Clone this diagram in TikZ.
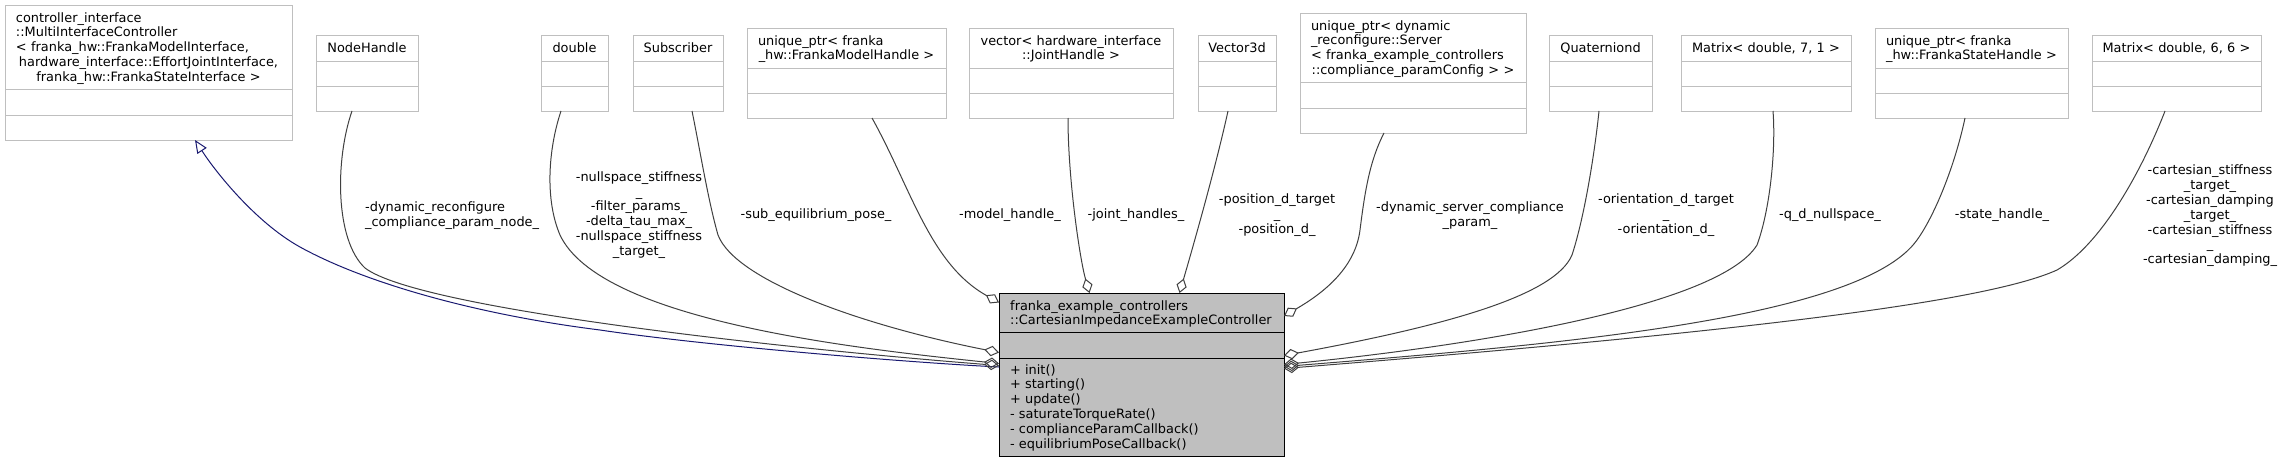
\documentclass[tikz,border=0pt]{standalone}
\usepackage{fontspec}
\setmainfont{DejaVu Sans}
\usetikzlibrary{arrows.meta}
\definecolor{boxgray}{HTML}{BFBFBF}
\definecolor{edgegray}{HTML}{404040}
\definecolor{inhblue}{HTML}{191970}
\newcommand\ctrline[1]{\makebox[\hsize]{#1}}
\newcommand\umlbox[8]{%
  \pgfmathsetmacro\ubW{#4-#2}%
  \pgfmathsetmacro\ubH{#5-#3}%
  \pgfmathsetmacro\ubTW{#4-#2-22}%
  \pgfmathsetmacro\ubCX{(#2+#4)/2}%
  \pgfmathsetmacro\ubCY{(#3+#5)/2}%
  \node[classbox, minimum width=\ubW pt, minimum height=\ubH pt] (#1) at (\ubCX,\ubCY) {};
  \node[classtext, text width=\ubTW pt] (#1-label) at (\ubCX,#3+7) {#8};
  \draw[classdiv] (#2,#6) -- (#4,#6) (#2,#7) -- (#4,#7);
}
\tikzset{
  dfont/.style={font=\fontsize{12.9}{14.8}\selectfont},
  classbox/.style={draw=boxgray, line width=1pt, inner sep=0pt, outer sep=0pt},
  classdiv/.style={draw=boxgray, line width=1pt},
  classtext/.style={dfont, anchor=north, inner sep=0pt, align=left},
  mainbox/.style={draw=black, fill=boxgray, line width=1pt, inner sep=0pt, outer sep=0pt},
  maintext/.style={dfont, anchor=north west, inner sep=0pt, align=left},
  elabel/.style={dfont, inner sep=0pt, align=center},
  agg/.style={draw=edgegray, line width=1pt, arrows={Diamond[open,length=15pt,width=10.5pt]-}},
  inh/.style={draw=inhblue, line width=1pt, arrows={-Triangle[open,length=13pt,width=11pt]}},
}
\begin{document}
\begin{tikzpicture}[x=1pt, y=-1pt]
\fill[white] (0,0) rectangle (2285,463);
\useasboundingbox (0,0) rectangle (2285,463);

% classes
\umlbox{ctrl}{5}{5}{292}{140}{89}{115}{controller\_interface\\::MultiInterfaceController\\< franka\_hw::FrankaModelInterface,\\\ctrline{hardware\_interface::EffortJointInterface,}\\\ctrline{franka\_hw::FrankaStateInterface >}}
\umlbox{nodeh}{316}{35}{418}{111}{61}{86}{\ctrline{NodeHandle}}
\umlbox{dbl}{541}{35}{608}{111}{61}{86}{\ctrline{double}}
\umlbox{subs}{633}{35}{723}{111}{61}{86}{\ctrline{Subscriber}}
\umlbox{modelh}{747}{28}{946}{118}{68}{93}{unique\_ptr< franka\\\ctrline{\_hw::FrankaModelHandle >}}
\umlbox{jointh}{969}{28}{1173}{118}{68}{93}{\ctrline{vector< hardware\_interface}\\\ctrline{::JointHandle >}}
\umlbox{vecd}{1198}{35}{1276}{111}{61}{86}{\ctrline{Vector3d}}
\umlbox{dynrec}{1300}{13}{1526}{133}{82}{108}{unique\_ptr< dynamic\\\_reconfigure::Server\\< franka\_example\_controllers\\\ctrline{::compliance\_paramConfig > >}}
\umlbox{quat}{1549}{35}{1652}{111}{61}{86}{\ctrline{Quaterniond}}
\umlbox{matA}{1681}{35}{1851}{111}{61}{86}{\ctrline{Matrix< double, 7, 1 >}}
\umlbox{stateh}{1875}{28}{2068}{118}{68}{93}{unique\_ptr< franka\\\ctrline{\_hw::FrankaStateHandle >}}
\umlbox{matB}{2092}{35}{2261}{111}{61}{86}{\ctrline{Matrix< double, 6, 6 >}}

% main class
\node[mainbox, minimum width=285pt, minimum height=163pt] (main) at (1141.5,374.5) {};
\node[maintext] (main-title) at (1010,300) {franka\_example\_controllers\\::CartesianImpedanceExampleController};
\draw[line width=1pt] (999,332) -- (1284,332) (999,358) -- (1284,358);
\node[maintext] (main-methods) at (1010,364) {+ init()\\+ starting()\\+ update()\\- saturateTorqueRate()\\- complianceParamCallback()\\- equilibriumPoseCallback()};

% connectors
\draw[inh] ([yshift=7.5pt]main.west) .. controls (900,362) and (700,345) .. (600,330)
  .. controls (480,315) and (367,284) .. (300,247)
  .. controls (255,222) and (215,171) .. ([xshift=46.5pt]ctrl.south);
\draw[agg] ([yshift=9pt]main.west) .. controls (800,350) and (420,310) .. (365,268)
  .. controls (335,240) and (335,160) .. ([xshift=-15pt]nodeh.south);
\draw[agg] ([yshift=11pt]main.west) .. controls (850,348) and (600,320) .. (560,235)
  .. controls (545,200) and (548,150) .. ([xshift=-13.5pt]dbl.south);
\draw[agg] ([yshift=22pt]main.west) .. controls (860,325) and (735,280) .. (718,235)
  .. controls (708,200) and (700,150) .. ([xshift=14pt]subs.south);
\draw[agg] ([yshift=72pt]main.west) .. controls (930,264) and (911,188) .. ([xshift=25.5pt]modelh.south);
\draw[agg] ([xshift=-52pt]main.north) .. controls (1080,260) and (1068,180) .. ([xshift=-3pt]jointh.south);
\draw[agg] ([xshift=38pt]main.north) .. controls (1192,250) and (1215,170) .. ([xshift=-9pt]vecd.south);
\draw[agg] ([yshift=58.5pt]main.east) .. controls (1320,295) and (1355,270) .. (1360,230)
  .. controls (1365,190) and (1370,160) .. ([xshift=-29pt]dynrec.south);
\draw[agg] ([yshift=19pt]main.east) .. controls (1450,325) and (1555,295) .. (1572,255)
  .. controls (1585,215) and (1595,150) .. ([xshift=-1.5pt]quat.south);
\draw[agg] ([yshift=10pt]main.east) .. controls (1480,345) and (1720,305) .. (1757,245)
  .. controls (1770,210) and (1776,150) .. ([xshift=7pt]matA.south);
\draw[agg] ([yshift=8pt]main.east) .. controls (1550,345) and (1860,320) .. (1917,240)
  .. controls (1935,215) and (1955,165) .. ([xshift=-6.5pt]stateh.south);
\draw[agg] ([yshift=6pt]main.east) .. controls (1700,335) and (1980,305) .. (2057,270)
  .. controls (2100,245) and (2140,175) .. ([xshift=-11.5pt]matB.south);

% connector labels
\node[elabel, align=left, anchor=west] (l-nodeh) at (365,215.5) {-dynamic\_reconfigure\\\_compliance\_param\_node\_};
\node[elabel] (l-dbl) at (639,215) {-nullspace\_stiffness\\\_\\-filter\_params\_\\-delta\_tau\_max\_\\-nullspace\_stiffness\\\_target\_};
\node[elabel] (l-subs) at (816,215) {-sub\_equilibrium\_pose\_};
\node[elabel] (l-model) at (1010,215) {-model\_handle\_};
\node[elabel] (l-joint) at (1136,215) {-joint\_handles\_};
\node[elabel] (l-pos) at (1277,215) {-position\_d\_target\\\_\\-position\_d\_};
\node[elabel] (l-dyn) at (1470,215.5) {-dynamic\_server\_compliance\\\_param\_};
\node[elabel] (l-orient) at (1666,215) {-orientation\_d\_target\\\_\\-orientation\_d\_};
\node[elabel] (l-qd) at (1830,215) {-q\_d\_nullspace\_};
\node[elabel] (l-state) at (2002,215) {-state\_handle\_};
\node[elabel] (l-cart) at (2210,216) {-cartesian\_stiffness\\\_target\_\\-cartesian\_damping\\\_target\_\\-cartesian\_stiffness\\\_\\-cartesian\_damping\_};
\end{tikzpicture}
\end{document}
